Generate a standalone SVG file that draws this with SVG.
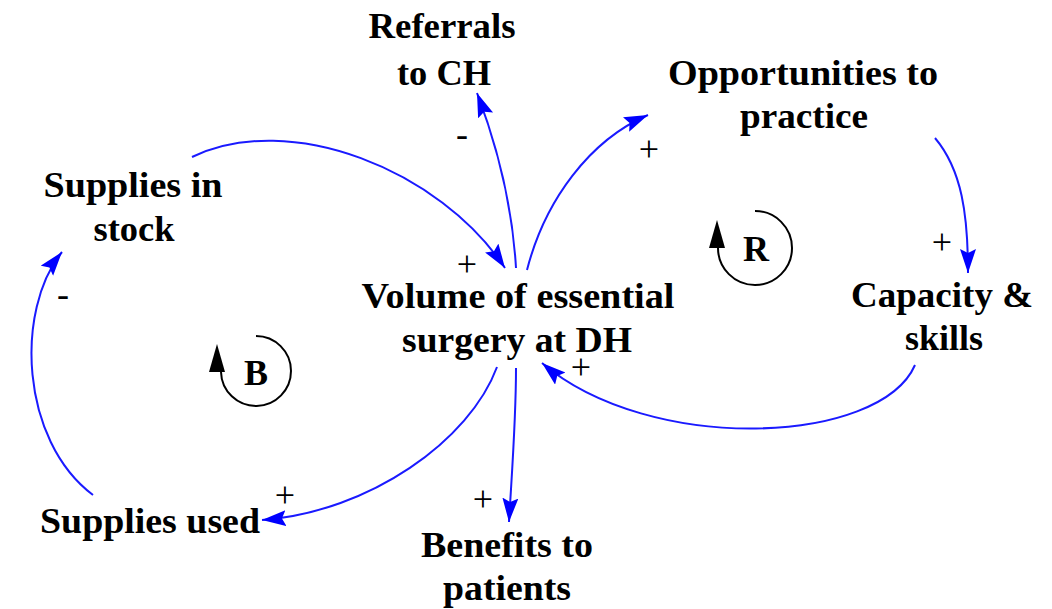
<svg xmlns="http://www.w3.org/2000/svg" width="1052" height="609" viewBox="0 0 1052 609">
<style>
.lbl{font-family:"Liberation Serif","Times New Roman",serif;font-weight:bold;font-size:35px;fill:#000;text-anchor:middle}
.sgn{font-family:"Liberation Serif","Times New Roman",serif;font-size:36px;fill:#000;text-anchor:middle}
.loop{font-family:"Liberation Serif","Times New Roman",serif;font-weight:bold;font-size:36px;fill:#000;text-anchor:middle}
.c{fill:none;stroke:#1a1aff;stroke-width:2;marker-end:url(#ah)}
.la{fill:none;stroke:#000;stroke-width:2}
</style>
<defs>
<marker id="ah" markerUnits="userSpaceOnUse" markerWidth="26" markerHeight="18" refX="24" refY="8" orient="auto">
<path d="M0,0 L24,8 L0,16 L4,8 z" fill="#0000ff"/>
</marker>
</defs>
<rect width="1052" height="609" fill="#fff"/>
<g id="connectors">
<path class="c" d="M192,157 C290,110 440,170 505,268"/>
<path class="c" d="M516,268 C512,200 495,140 477,93"/>
<path class="c" d="M527,270 C545,200 590,140 648,115"/>
<path class="c" d="M935,138 C962,170 968,215 968,273"/>
<path class="c" d="M915,365 C880,445 650,455 542,363"/>
<path class="c" d="M497,367 C470,440 370,512 262,520"/>
<path class="c" d="M516,368 C516,420 512,470 509,522"/>
<path class="c" d="M93,495 C20,440 15,310 62,252"/>
</g>
<g id="signs">
<text class="sgn" x="467" y="276">+</text>
<text class="sgn" x="462" y="146">-</text>
<text class="sgn" x="649" y="161">+</text>
<text class="sgn" x="942" y="254">+</text>
<text class="sgn" x="581" y="379">+</text>
<text class="sgn" x="285" y="507">+</text>
<text class="sgn" x="483" y="511">+</text>
<text class="sgn" x="63" y="306">-</text>
</g>
<g id="loop-B">
<path class="la" d="M256,336 A35,35 0 1 1 221,372"/>
<path d="M217,344 L225,372 L209,372 z" fill="#000"/>
<text class="loop" x="256" y="385">B</text>
</g>
<g id="loop-R">
<path class="la" d="M755,211 A37,37 0 1 1 718,248"/>
<path d="M717,220 L725,248 L709,248 z" fill="#000"/>
<text class="loop" x="756" y="261">R</text>
</g>
<g id="node-referrals"><text class="lbl" x="442" y="38" textLength="147" lengthAdjust="spacingAndGlyphs">Referrals</text><text class="lbl" x="444" y="85" textLength="94" lengthAdjust="spacingAndGlyphs">to CH</text></g>
<g id="node-opportunities"><text class="lbl" x="803" y="85" textLength="270" lengthAdjust="spacingAndGlyphs">Opportunities to</text><text class="lbl" x="804" y="128" textLength="128" lengthAdjust="spacingAndGlyphs">practice</text></g>
<g id="node-supplies-stock"><text class="lbl" x="133" y="197" textLength="179" lengthAdjust="spacingAndGlyphs">Supplies in</text><text class="lbl" x="134" y="241" textLength="81" lengthAdjust="spacingAndGlyphs">stock</text></g>
<g id="node-volume"><text class="lbl" x="518" y="308" textLength="313" lengthAdjust="spacingAndGlyphs">Volume of essential</text><text class="lbl" x="517" y="352" textLength="230" lengthAdjust="spacingAndGlyphs">surgery at DH</text></g>
<g id="node-capacity"><text class="lbl" x="942" y="307" textLength="182" lengthAdjust="spacingAndGlyphs">Capacity &amp;</text><text class="lbl" x="944" y="350" textLength="78" lengthAdjust="spacingAndGlyphs">skills</text></g>
<g id="node-supplies-used"><text class="lbl" x="150" y="533" textLength="220" lengthAdjust="spacingAndGlyphs">Supplies used</text></g>
<g id="node-benefits"><text class="lbl" x="507" y="557" textLength="172" lengthAdjust="spacingAndGlyphs">Benefits to</text><text class="lbl" x="507" y="600" textLength="128" lengthAdjust="spacingAndGlyphs">patients</text></g>
</svg>
